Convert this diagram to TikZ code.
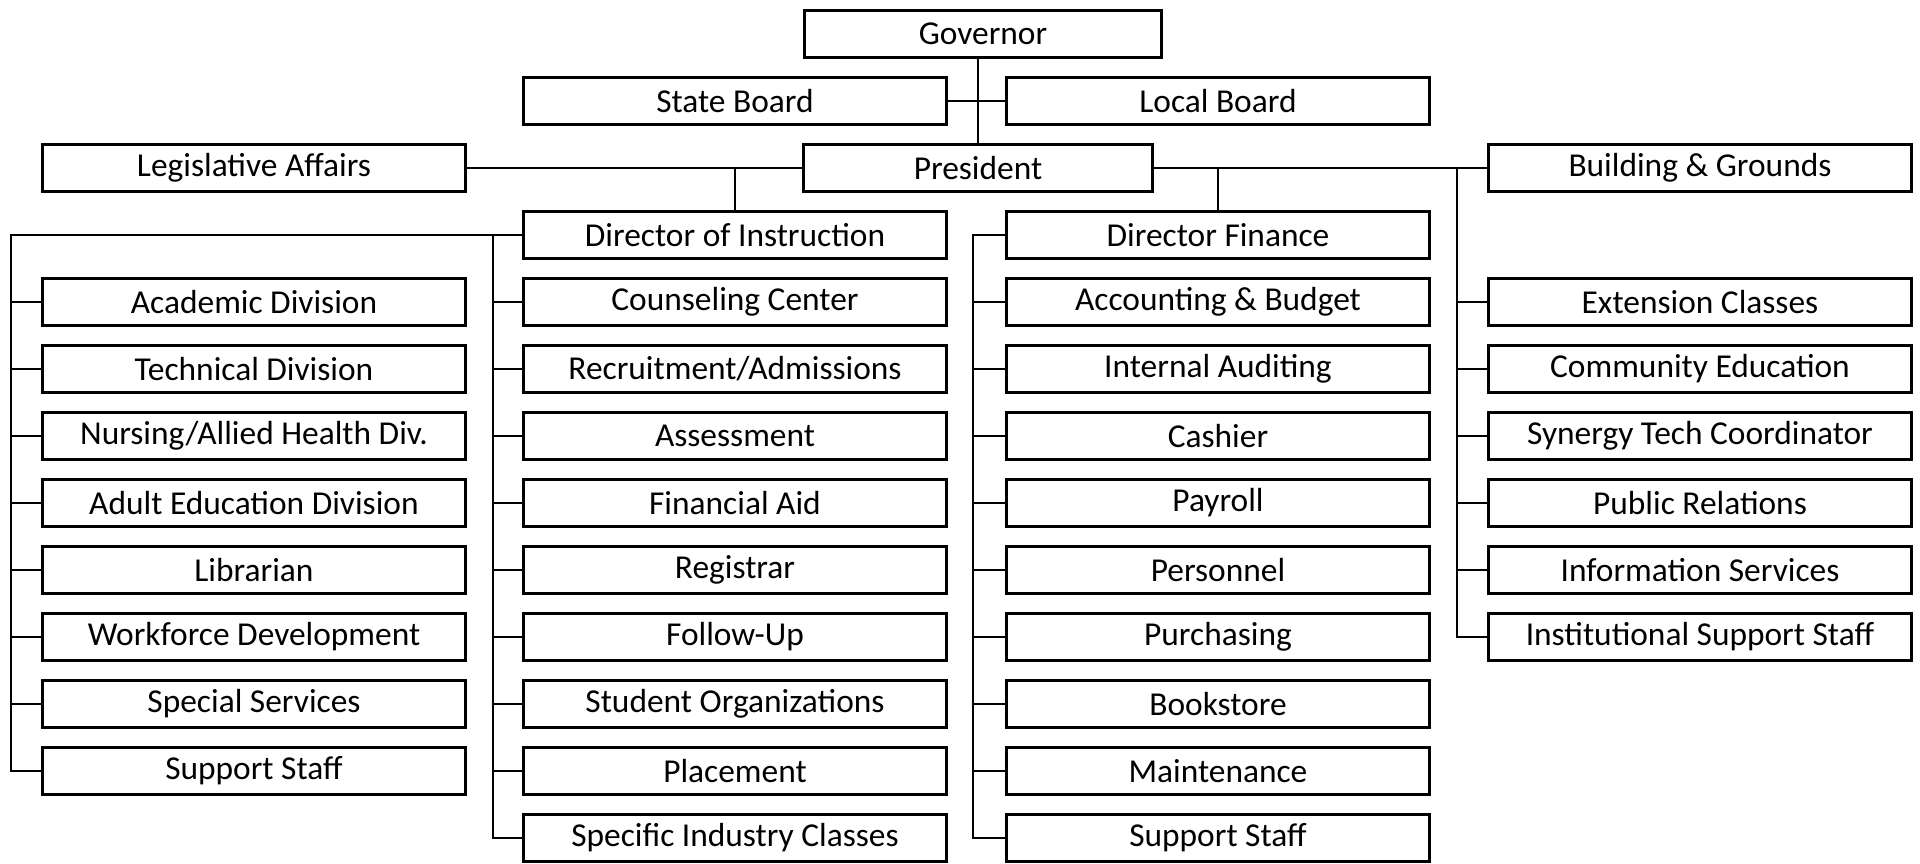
\documentclass[tikz,border=0pt]{standalone}
\usepackage{fontspec}
\setmainfont{Carlito}

\tikzset{
  unit/.style={draw, line width=0.03cm, minimum width=4.22cm, minimum height=0.47cm, inner sep=0pt, font=\fontsize{9.5}{11}\selectfont},
  link/.style={line width=0.028cm}
}

\begin{document}
\begin{tikzpicture}[x=0.01cm, y=-0.01cm]
\useasboundingbox (0,0) rectangle (1920,863);

% top of the chart
\node[unit, minimum width=3.56cm] (gov) at (983,34) {Governor};
\node[unit] (sboard) at (735,101) {State Board};
\node[unit] (lboard) at (1218,101) {Local Board};
\node[unit, minimum width=3.49cm] (pres) at (978,168) {President};
\node[unit] (legis) at (254,168) {Legislative Affairs};
\node[unit] (bldg) at (1700,168) {Building \& Grounds};
\node[unit] (dinst) at (735,235) {Director of Instruction};
\node[unit] (dfin) at (1218,235) {Director Finance};

% columns
\foreach \t [count=\i] in {Academic Division, Technical Division, Nursing/Allied Health Div., Adult Education Division, Librarian, Workforce Development, Special Services, Support Staff}
  \node[unit] (acad\i) at (254,{235+\i*67}) {\t};
\foreach \t [count=\i] in {Counseling Center, Recruitment/Admissions, Assessment, Financial Aid, Registrar, Follow-Up, Student Organizations, Placement, Specific Industry Classes}
  \node[unit] (inst\i) at (735,{235+\i*67}) {\t};
\foreach \t [count=\i] in {Accounting \& Budget, Internal Auditing, Cashier, Payroll, Personnel, Purchasing, Bookstore, Maintenance, Support Staff}
  \node[unit] (fin\i) at (1218,{235+\i*67}) {\t};
\foreach \t [count=\i] in {Extension Classes, Community Education, Synergy Tech Coordinator, Public Relations, Information Services, Institutional Support Staff}
  \node[unit] (ext\i) at (1700,{235+\i*67}) {\t};

% links at the top
\draw[link] (pres.north) -- (pres.north |- gov.south);
\draw[link] (sboard) -- (lboard);
\draw[link] (legis) -- (pres);
\draw[link] (pres) -- (bldg);
\draw[link] (dinst.north) -- (dinst.north |- pres.west);
\draw[link] (dfin.north) -- (dfin.north |- pres.east);

% spines of the columns
\coordinate (acadspine) at (11,235);
\coordinate (instspine) at (493,235);
\coordinate (finspine) at (973,235);
\coordinate (extspine) at (1457,168);

\draw[link] (dinst.west) -- (acadspine) |- (acad8.west);
\draw[link] (instspine) |- (inst9.west);
\draw[link] (dfin.west) -- (finspine) |- (fin9.west);
\draw[link] (extspine) |- (ext6.west);

\foreach \i in {1,...,7}
  \draw[link] (acadspine |- acad\i.west) -- (acad\i.west);
\foreach \i in {1,...,8}
  \draw[link] (instspine |- inst\i.west) -- (inst\i.west);
\foreach \i in {1,...,8}
  \draw[link] (finspine |- fin\i.west) -- (fin\i.west);
\foreach \i in {1,...,5}
  \draw[link] (extspine |- ext\i.west) -- (ext\i.west);
\end{tikzpicture}
\end{document}
